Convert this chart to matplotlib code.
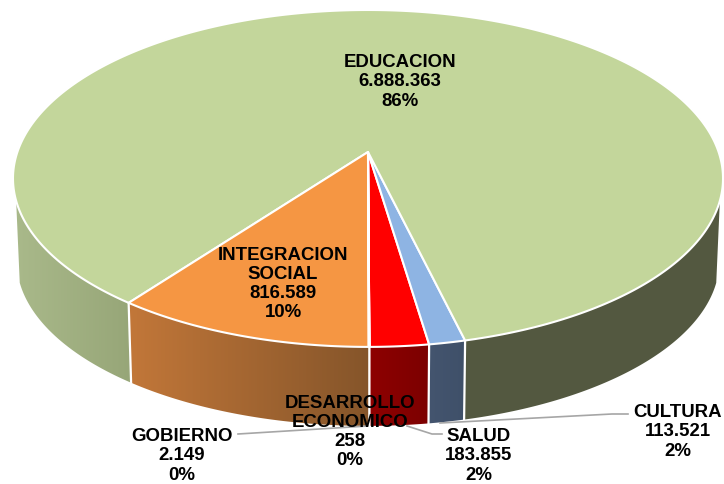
import numpy as np
import matplotlib
matplotlib.use("Agg")
import matplotlib.pyplot as plt
from matplotlib.patches import Polygon
from matplotlib.colors import LinearSegmentedColormap

# data, in drawing order counter-clockwise from the front of the pie
categories = ["SALUD", "CULTURA", "EDUCACION", "INTEGRACION\nSOCIAL", "GOBIERNO", "DESARROLLO\nECONOMICO"]
values = [183855, 113521, 6888363, 816589, 2149, 258]
value_labels = ["183.855", "113.521", "6.888.363", "816.589", "2.149", "258"]
pct_labels = ["2%", "2%", "86%", "10%", "0%", "0%"]
top_colors = ["#FF0000", "#8EB4E3", "#C3D69B", "#F59643", "#4F81BD", "#9BBB59"]
wall_left = ["#8E0000", "#44556F", "#A9B98A", "#C27739", "#3B618E", "#748C43"]
wall_right = ["#7C0000", "#3F5069", "#535840", "#85552A", "#3B618E", "#748C43"]
label_pos = [(479, 456), (678, 432), (400, 82), (283, 284), (182, 456), (350, 432)]

START = -89.8
K = 0.157
CX = 368


def top_rim(t):
    t = np.radians(t)
    d = 1 + K * np.sin(t)
    return CX + 350.6 * np.cos(t) / d, 153 - 164.3 * np.sin(t) / d


def bottom_rim(t):
    t = np.radians(t)
    d = 1 + K * np.sin(t)
    return CX + 347 * np.cos(t) / d, 236 - 160.9 * np.sin(t) / d


fig = plt.figure(figsize=(7.24, 4.85), dpi=100, facecolor="white")
ax = fig.add_axes([0, 0, 1, 1])
ax.set_xlim(0, 724)
ax.set_ylim(485, 0)
ax.axis("off")

vals = np.array(values, dtype=float)
sweep = vals / vals.sum() * 360
edges = START + np.concatenate([[0], np.cumsum(sweep)])


def wall(t0, t1, c0, c1):
    ts = np.linspace(t0, t1, 200)
    xt, yt = top_rim(ts)
    xb, yb = bottom_rim(ts)
    pts = np.vstack([np.column_stack([xt, yt]), np.column_stack([xb, yb])[::-1]])
    poly = Polygon(pts, closed=True, facecolor="none", edgecolor="none", transform=ax.transData)
    ax.add_patch(poly)
    left, right = pts[:, 0].min(), pts[:, 0].max()
    cmap = LinearSegmentedColormap.from_list("w", [c0, c1])
    im = ax.imshow(np.linspace(0, 1, 256)[None, :], cmap=cmap, aspect="auto",
                   extent=(left, right, 485, 0), zorder=2)
    im.set_clip_path(poly)


# visible parts of the side walls
VIS_L, VIS_R = 196.5, 343.5
wall(edges[0], edges[1], wall_left[0], wall_right[0])
wall(edges[1], edges[2], wall_left[1], wall_right[1])
wall(edges[2], VIS_R - 360 + 0, wall_right[2], wall_right[2])
wall(VIS_L, edges[3], wall_left[2], "#97A678")
wall(edges[3], edges[4], wall_left[3], wall_right[3])
ax.set_xlim(0, 724)
ax.set_ylim(485, 0)

# separators on the walls
for e in [edges[0], edges[1], edges[2], edges[3]]:
    xa, ya = top_rim(e)
    xb, yb = bottom_rim(e)
    ax.plot([xa, xb], [ya, yb], color="white", lw=1.6, zorder=3)

# top faces
for i in range(len(values)):
    ts = np.linspace(edges[i], edges[i + 1], max(2, int(sweep[i] * 2)))
    xs, ys = top_rim(ts)
    pts = np.vstack([[CX, 153], np.column_stack([xs, ys])])
    ax.add_patch(Polygon(pts, closed=True, facecolor=top_colors[i], edgecolor="white",
                         linewidth=1.5, joinstyle="round", zorder=4))

# leader lines
leader = dict(color="#A6A6A6", lw=1.2, zorder=5)
ax.plot([238, 368], [435, 427], **leader)
ax.plot([442, 432, 407], [435, 435, 427], **leader)
ax.plot([628, 612, 440], [415, 415, 424], **leader)

# labels
for name, v, p, (x, y) in zip(categories, value_labels, pct_labels, label_pos):
    ax.text(x, y, f"{name}\n{v}\n{p}", ha="center", va="center", fontsize=13.4,
            fontweight="bold", family="Liberation Sans", color="black",
            linespacing=1.17, zorder=6)

fig.savefig("out.png", dpi=100, facecolor="white")
